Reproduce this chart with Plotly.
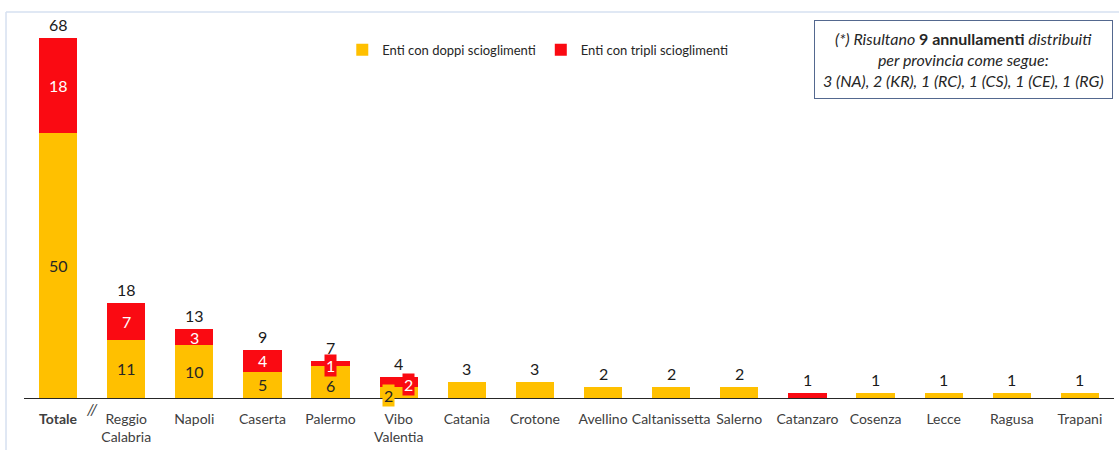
import plotly.graph_objects as go

# Categories (provinces) and counts of entities with repeated dissolutions
categories = ["Totale", "Reggio<br>Calabria", "Napoli", "Caserta", "Palermo",
              "Vibo<br>Valentia", "Catania", "Crotone", "Avellino", "Caltanissetta",
              "Salerno", "Catanzaro", "Cosenza", "Lecce", "Ragusa", "Trapani"]
doppi = [50, 11, 10, 5, 6, 2, 3, 3, 2, 2, 2, 0, 1, 1, 1, 1]
tripli = [18, 7, 3, 4, 1, 2, 0, 0, 0, 0, 0, 1, 0, 0, 0, 0]
tick_labels = ["<b>Totale</b>"] + categories[1:]

YELLOW = "#FFC000"
RED = "#FA0A12"
FONT = "Lato, 'Open Sans', sans-serif"

x = list(range(len(categories)))
totals = [d + t for d, t in zip(doppi, tripli)]

fig = go.Figure()
fig.add_trace(go.Bar(x=x, y=doppi, name="Enti con doppi scioglimenti",
                     marker=dict(color=YELLOW, line=dict(width=0)), width=0.56))
fig.add_trace(go.Bar(x=x, y=tripli, name="Enti con tripli scioglimenti",
                     marker=dict(color=RED, line=dict(width=0)), width=0.56))

# Totals above each bar
for i, tot in enumerate(totals):
    fig.add_annotation(x=i, y=tot, text=str(tot), showarrow=False,
                       yanchor="bottom", yshift=2,
                       font=dict(size=16, color="#1a1a1a", family=FONT))

# Segment labels for the categories that have both kinds of dissolutions
seg_shift = {4: ((0, -3), (0, -2)), 5: ((-10, -3), (10, -2))}
for i in range(6):
    (dx1, dy1), (dx2, dy2) = seg_shift.get(i, ((0, 0), (0, 0)))
    fig.add_annotation(x=i, y=doppi[i] / 2, text=str(doppi[i]), showarrow=False,
                       xshift=dx1, yshift=dy1,
                       bgcolor=YELLOW if i == 5 else None, borderpad=1,
                       font=dict(size=16, color="#262626", family=FONT))
    fig.add_annotation(x=i, y=doppi[i] + tripli[i] / 2, text=str(tripli[i]),
                       showarrow=False, xshift=dx2, yshift=dy2,
                       bgcolor=RED if i in (4, 5) else None, borderpad=1,
                       font=dict(size=16, color="white", family=FONT))

# Axis break mark between the total and the provinces
fig.add_annotation(x=0.5, y=0, text="<i>//</i>", showarrow=False, yanchor="top", yshift=1,
                   font=dict(size=16, color="#404040", family=FONT))

# Note box
fig.add_annotation(
    x=0.862, y=0.888, xref="paper", yref="paper", xanchor="center", yanchor="middle",
    showarrow=False,
    text=("<i>(*) Risultano </i><b>9 annullamenti</b><i> distribuiti</i><br>"
          "<i>per provincia come segue:</i><br>"
          "<i>3 (NA), 2 (KR), 1 (RC), 1 (CS), 1 (CE), 1 (RG)</i>"),
    align="center", bordercolor="#54688F", borderwidth=1, borderpad=8,
    bgcolor="white", font=dict(size=16, color="#262626", family=FONT))

# Chart-area frame (top and left edges)
fig.add_shape(type="line", xref="paper", yref="paper", x0=-0.0165, x1=1.02,
              y0=1.013, y1=1.013, line=dict(color="#D6E0F0", width=1.5))
fig.add_shape(type="line", xref="paper", yref="paper", x0=-0.0165, x1=-0.0165,
              y0=1.013, y1=-0.2, line=dict(color="#D6E0F0", width=1.5))

fig.update_layout(
    barmode="stack",
    width=1119, height=450,
    margin=dict(l=24, r=5, t=17, b=50),
    plot_bgcolor="white", paper_bgcolor="white",
    font=dict(family=FONT, size=13, color="#404040"),
    legend=dict(orientation="h", traceorder="normal",
                x=0.292, y=0.914, xanchor="left", yanchor="middle",
                font=dict(size=13, color="#262626", family=FONT),
                itemwidth=30, bgcolor="rgba(0,0,0,0)"),
    xaxis=dict(range=[-0.5, 15.5], tickvals=x, ticktext=tick_labels,
               showline=True, linecolor="#262626", linewidth=1,
               showgrid=False, ticks="", ticklabelstandoff=8,
               tickfont=dict(size=14, color="#404040")),
    yaxis=dict(range=[0, 72], visible=False, showgrid=False),
    bargap=0.44,
)

fig.write_html("out.html")
